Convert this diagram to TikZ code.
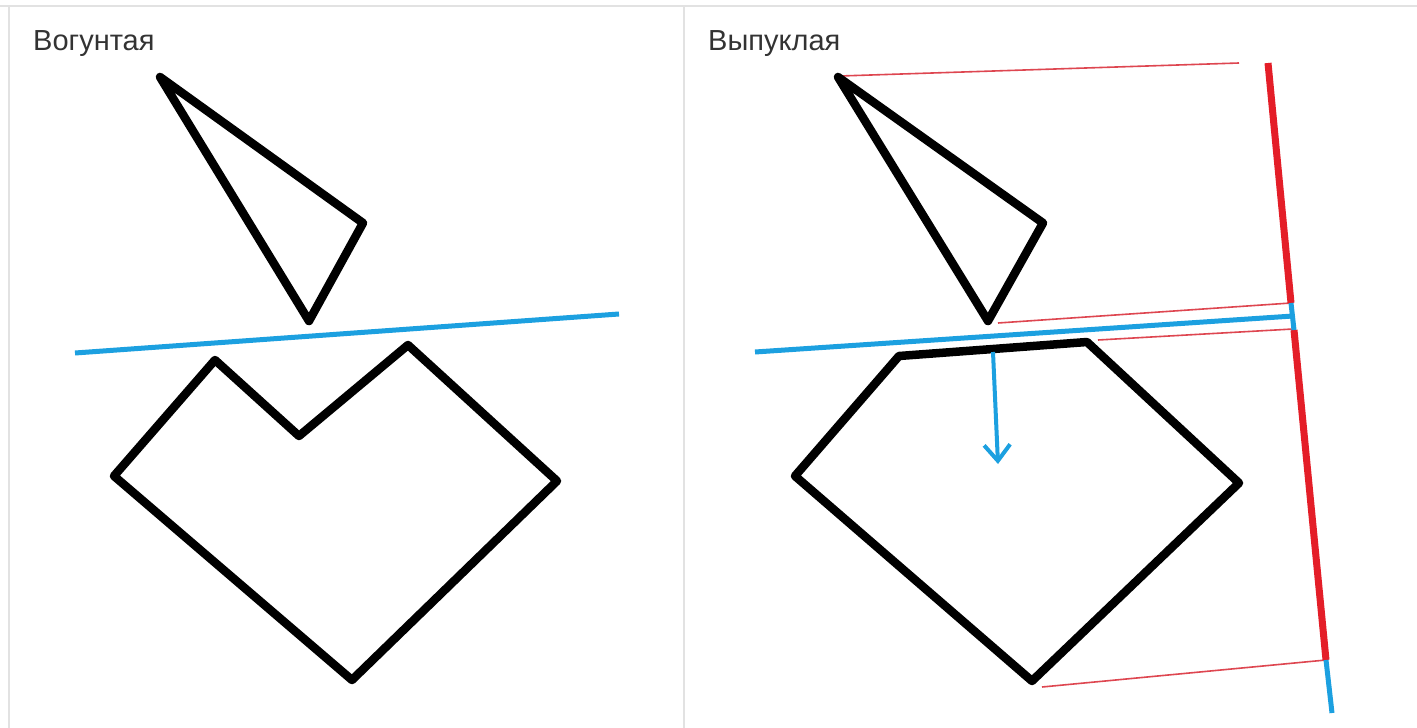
\documentclass[tikz,border=0pt]{standalone}
\usepackage{fontspec}
\setmainfont{Liberation Sans}
\usetikzlibrary{arrows.meta}
\definecolor{panelgray}{RGB}{226,226,226}
\definecolor{textgray}{RGB}{51,51,51}
\definecolor{lineblue}{RGB}{28,160,224}
\definecolor{axisred}{RGB}{228,30,40}
\definecolor{thinred}{RGB}{222,70,80}
\tikzset{
  polyline/.style={line width=8.5, black, line join=round},
  sepline/.style={line width=5, lineblue},
  axisline/.style={line width=7, axisred},
  projline/.style={line width=1.6, thinred},
  title/.style={anchor=base west, text=textgray, font=\fontsize{29}{33}\selectfont, inner sep=0}
}
\begin{document}
\begin{tikzpicture}[x=1pt,y=-1pt]
\useasboundingbox (0,0) rectangle (1417,728);
\fill[white] (0,0) rectangle (1417,728);

\draw[panelgray, line width=1.5] (0,6) -- (1417,6);
\draw[panelgray, line width=1.5] (9,6) -- (9,728);
\draw[panelgray, line width=1.5] (684,6) -- (684,728);

\node[title] (concave) at (33,50) {Вогунтая};
\node[title] (convex) at (708,50) {Выпуклая};

\draw[polyline] (160,77) -- (363,223) -- (309,321) -- cycle;
\draw[sepline] (75,353) -- (619,314);
\draw[polyline] (114,476) -- (215,360) -- (299,436) -- (408,345) -- (557,481) -- (352,680) -- cycle;

\draw[projline] (840,76) -- (1239,63);
\draw[projline] (998,323) -- (1291,303);
\draw[projline] (1098,340) -- (1293,329);
\draw[projline] (1042,687) -- (1326,660);

\draw[polyline] (838,77) -- (1043,223) -- (988,321) -- cycle;
\draw[polyline] (795,476) -- (899,356) -- (1087,342) -- (1239,483) -- (1032,681) -- cycle;
\draw[sepline] (755,352) -- (1293,316);

\coordinate (axtop) at (1268,63);
\coordinate (axa) at (1291,303);
\coordinate (axb) at (1294,330);
\coordinate (axc) at (1326,660);
\coordinate (axend) at (1332,713);
\draw[axisline] (axtop) -- (axa);
\draw[axisline] (axb) -- (axc);
\draw[sepline] (axa) -- (axb);
\draw[sepline] (axc) -- (axend);

\coordinate (normfrom) at (993,352);
\coordinate (normto) at (998,464);
\draw[lineblue, line width=4, -{Straight Barb[length=16,width=26,line width=4]}] (normfrom) -- (normto);

\end{tikzpicture}
\end{document}
